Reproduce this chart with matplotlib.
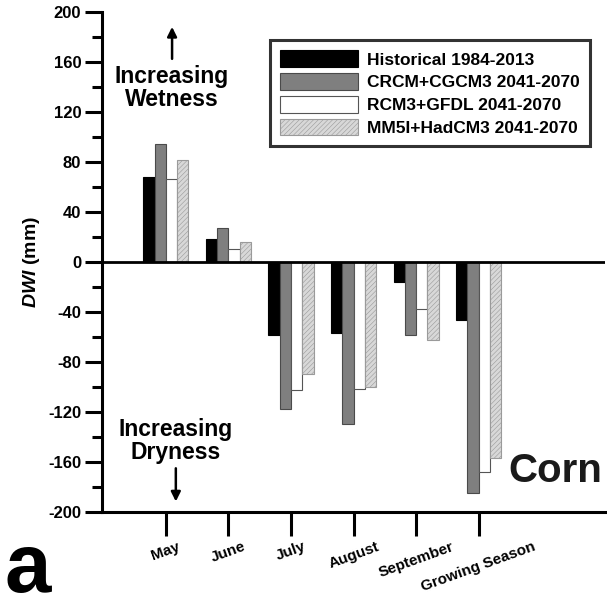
import numpy as np
import matplotlib
matplotlib.use("Agg")
import matplotlib.pyplot as plt
from matplotlib.ticker import MultipleLocator

plt.rcParams['font.family'] = ['Liberation Sans', 'DejaVu Sans']
plt.rcParams['font.weight'] = 'bold'
plt.rcParams['mathtext.fontset'] = 'custom'
plt.rcParams['mathtext.it'] = 'Liberation Sans:bold:italic'
plt.rcParams['mathtext.rm'] = 'Liberation Sans:bold'
plt.rcParams['axes.unicode_minus'] = False
plt.rcParams['hatch.linewidth'] = 0.4

# data (DWI, mm)
months = ['May', 'June', 'July', 'August', 'September', 'Growing Season']
historical = [68, 18, -59, -57, -16, -47]
crcm_cgcm3 = [94, 27, -118, -130, -59, -185]
rcm3_gfdl = [66, 10, -103, -102, -38, -168]
mm5i_hadcm3 = [81, 16, -90, -100, -63, -157]

series = [historical, crcm_cgcm3, rcm3_gfdl, mm5i_hadcm3]
labels = ['Historical 1984-2013', 'CRCM+CGCM3 2041-2070',
          'RCM3+GFDL 2041-2070', 'MM5I+HadCM3 2041-2070']
faces = ['#000000', '#7f7f7f', '#ffffff', '#d8d8d8']
edges = ['#000000', '#4a4a4a', '#555555', '#9a9a9a']
hatches = [None, None, None, '///////']

fig = plt.figure(figsize=(6.07, 6.10), dpi=100)
ax = fig.add_axes([0.168, 0.161, 0.829, 0.820])

x = np.arange(len(months))
w = 0.18
for i, vals in enumerate(series):
    ax.bar(x + (i - 1.5) * w, vals, width=w, color=faces[i], edgecolor=edges[i],
           linewidth=0.8, hatch=hatches[i], label=labels[i])

ax.axhline(0, color='black', lw=2.0, zorder=3)

ax.set_xlim(-1.02, 7.02)
ax.set_ylim(-200, 200)
ax.yaxis.set_major_locator(MultipleLocator(40))
ax.yaxis.set_minor_locator(MultipleLocator(20))
ax.set_xticks(x)
ax.set_xticklabels(months, rotation=20, ha='center', fontsize=11, fontweight='bold')
ax.tick_params(axis='y', which='major', direction='out', length=12, width=2.2,
               labelsize=12, pad=3)
ax.tick_params(axis='y', which='minor', direction='out', length=7, width=2.2)
ax.tick_params(axis='x', which='major', direction='out', length=17, width=2.2, pad=3)
for lab in ax.get_yticklabels():
    lab.set_fontweight('bold')

for s in ['top', 'right']:
    ax.spines[s].set_visible(False)
for s in ['left', 'bottom']:
    ax.spines[s].set_linewidth(2.2)

ax.set_ylabel(r'$DWI$ (mm)', fontsize=14, fontweight='bold', labelpad=4)

ax.text(0.1, 139, 'Increasing\nWetness', ha='center', va='center',
        fontsize=16.5, fontweight='bold', linespacing=1.0)
ax.annotate('', xy=(0.1, 190), xytext=(0.1, 160),
            arrowprops=dict(arrowstyle='-|>', color='black', lw=1.8,
                            mutation_scale=14))
ax.text(0.16, -143, 'Increasing\nDryness', ha='center', va='center',
        fontsize=16.5, fontweight='bold', linespacing=1.0)
ax.annotate('', xy=(0.16, -194), xytext=(0.16, -163),
            arrowprops=dict(arrowstyle='-|>', color='black', lw=1.8,
                            mutation_scale=14))

ax.text(6.22, -176.5, 'Corn', ha='center', va='baseline', fontsize=29,
        fontweight='bold', color='#1a1a1a')

leg = ax.legend(loc='upper right', bbox_to_anchor=(590 / 607, 1 - 40 / 610),
                bbox_transform=fig.transFigure, borderaxespad=0,
                frameon=True, fancybox=False, edgecolor='black',
                handlelength=4.5, handleheight=1.1, labelspacing=0.32,
                handletextpad=0.5, borderpad=0.6, prop={'weight': 'bold', 'size': 12.5})
leg.get_frame().set_linewidth(2.2)

fig.text(0.008, 0.002, 'a', fontsize=60, fontweight='bold',
         ha='left', va='bottom')

fig.savefig('out.png', dpi=100)
